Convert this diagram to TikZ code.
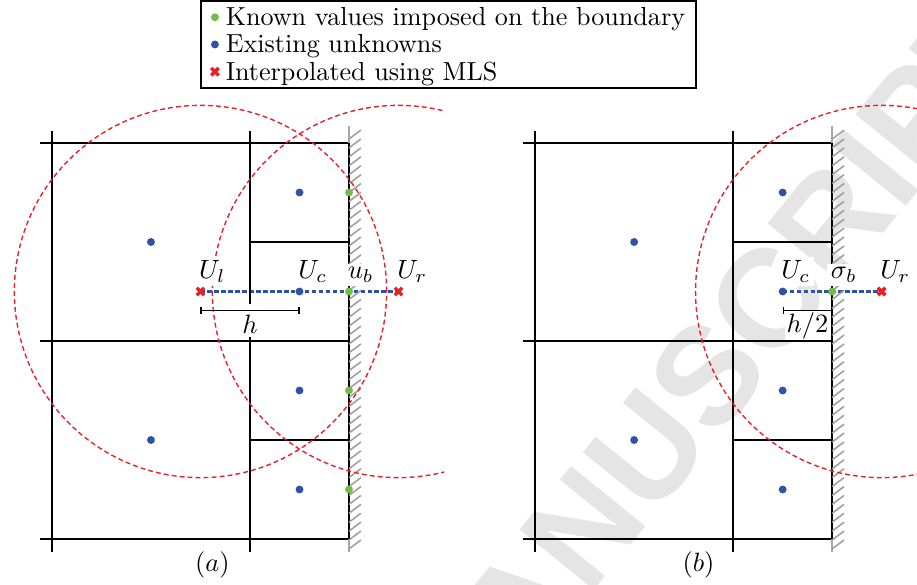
\documentclass[tikz,border=0pt]{standalone}
\usepackage{fontspec}
\newfontfamily\wmfont{Liberation Sans}
\usetikzlibrary{arrows.meta,shapes.misc,backgrounds,positioning}

\definecolor{dotblue}{RGB}{47,82,167}
\definecolor{dotgreen}{RGB}{112,190,70}
\definecolor{mlsred}{RGB}{232,32,40}

\tikzset{
  cellline/.style={line width=0.6pt},
  hatch/.style={gray!75,line width=0.45pt},
  known/.style={circle,fill=dotgreen,inner sep=0pt,minimum size=0.08cm},
  unknown/.style={circle,fill=dotblue,inner sep=0pt,minimum size=0.08cm},
  mls/.style={cross out,draw=mlsred,line width=1pt,inner sep=0pt,minimum size=0.04cm},
  mlscirc/.style={draw=mlsred,line width=0.4pt,dash pattern=on 1.4pt off 0.9pt},
  interp/.style={dotblue,line width=0.6pt,dash pattern=on 1.3pt off 0.7pt},
  small/.style={scale=0.76},
  ptlab/.style={small,anchor=south west,fill=white,inner sep=1.3pt},
  legtext/.style={scale=0.75,anchor=base west,inner sep=0pt},
  dimbar/.style={line width=0.4pt,{Bar[width=0.07cm]}-{Bar[width=0.07cm]}},
  wmark/.style={text=gray!20,font=\wmfont\bfseries\fontsize{40}{40}\selectfont,inner sep=0pt}
}

\begin{document}
\begin{tikzpicture}[font=\fontsize{10}{12}\selectfont]
  \useasboundingbox (-0.525,-0.455) rectangle (8.737,5.444);
  \clip (-0.525,-0.455) rectangle (8.737,5.444);
  % --- watermark
  \begin{scope}[on background layer]
    \node[wmark,rotate=51,anchor=base east] (wm) at (9.95,5.0) {ACCEPTED MANUSCRIPT};
  \end{scope}
  % --- legend
  \node[draw,line width=0.5pt,minimum width=5cm,minimum height=0.875cm,inner sep=0pt] (legend) at (4.005,4.995) {};
  \foreach \s/\t [count=\i] in {known/Known values imposed on the boundary,unknown/Existing unknowns,mls/Interpolated using MLS} {
    \node[\s] (m\i) at (1.646,5.545-0.275*\i) {};
    \node[legtext] (t\i) at (1.75,5.46-0.275*\i) {\t};
  }
  % --- cells and wall, both panels
  \foreach \sx in {0,4.88} {
    \begin{scope}[shift={(\sx,0)}]
      \draw[cellline] (-0.12,0) -- (3,0) (-0.12,2) -- (3,2) (-0.12,4) -- (3,4);
      \draw[cellline] (2,1) -- (3,1) (2,3) -- (3,3);
      \draw[cellline] (0,-0.13) -- (0,4.12);
      \draw[cellline,line width=0.75pt] (2,-0.13) -- (2,4.12);
      \draw[gray!70,line width=0.6pt] (3,-0.13) -- (3,4.17);
      \draw[cellline] (3,0) -- (3,4);
      \foreach \k in {0,...,46} \draw[hatch] (3,-0.1+0.09*\k) -- ++(0.12,0.09);
      \begin{scope}
        \clip (-0.6,-0.5) rectangle (3.96,4.6);
        \ifdim \sx pt<1pt \draw[mlscirc] (1.5,2.5) circle (1.88); \fi
        \draw[mlscirc] (3.5,2.5) circle (1.88);
      \end{scope}
      \node[unknown] at (1,3) {};
      \node[unknown] at (1,1) {};
      \foreach \y in {3.5,1.5,0.5} \node[unknown] at (2.5,\y) {};
    \end{scope}
  }
  % --- (a) ghost cell interpolation
  \begin{scope}[shift={(0,0)}]
    \foreach \y [count=\i] in {3.5,1.5,0.5} \node[known] (akb\i) at (3,\y) {};
    \node[mls] (aUl) at (1.5,2.5) {};
    \node[unknown] (aUc) at (2.5,2.5) {};
    \node[known] (aub) at (3,2.5) {};
    \node[mls] (aUr) at (3.5,2.5) {};
    \begin{scope}[on background layer]
      \draw[interp] (aUl.center) -- (aUr.center);
    \end{scope}
    \node[ptlab] (aUllab) at ([xshift=-1.5pt,yshift=0.012cm]aUl.north) {$U_l$};
    \node[ptlab] (aUclab) at ([xshift=-1.5pt]aUc.north) {$U_c$};
    \node[ptlab] (aublab) at ([xshift=-1.5pt]aub.north) {$u_b$};
    \node[ptlab] (aUrlab) at ([xshift=-1.5pt,yshift=0.012cm]aUr.north) {$U_r$};
    \node[small,anchor=base,fill=white,inner sep=1.3pt,text height=0.34cm] (ah) at (2,2.08) {$h$};
    \draw[dimbar] ([yshift=-0.19cm]aUl.center) -- ([yshift=-0.19cm]aUc.center);
    \node[small] (acap) at (1.62,-0.265) {$(a)$};
  \end{scope}
  % --- (b) boundary flux
  \begin{scope}[shift={(4.88,0)}]
    \node[unknown] (bUc) at (2.5,2.5) {};
    \node[known] (bsb) at (3,2.5) {};
    \node[mls] (bUr) at (3.5,2.5) {};
    \begin{scope}[on background layer]
      \draw[interp] (bUc.center) -- (bUr.center);
    \end{scope}
    \node[ptlab] (bUclab) at ([xshift=-1.5pt]bUc.north) {$U_c$};
    \node[ptlab] (bsblab) at ([xshift=-1.5pt]bsb.north) {$\sigma_b$};
    \node[ptlab] (bUrlab) at ([xshift=-1.5pt,yshift=0.012cm]bUr.north) {$U_r$};
    \node[small,anchor=base,fill=white,inner xsep=0.5pt,inner ysep=0.5pt] (bh) at (2.75,2.09) {$h/2$};
    \draw[dimbar] ([yshift=-0.19cm]bUc.center) -- ([yshift=-0.19cm]bsb.center);
    \node[small] (bcap) at (1.65,-0.265) {$(b)$};
  \end{scope}
\end{tikzpicture}
\end{document}
